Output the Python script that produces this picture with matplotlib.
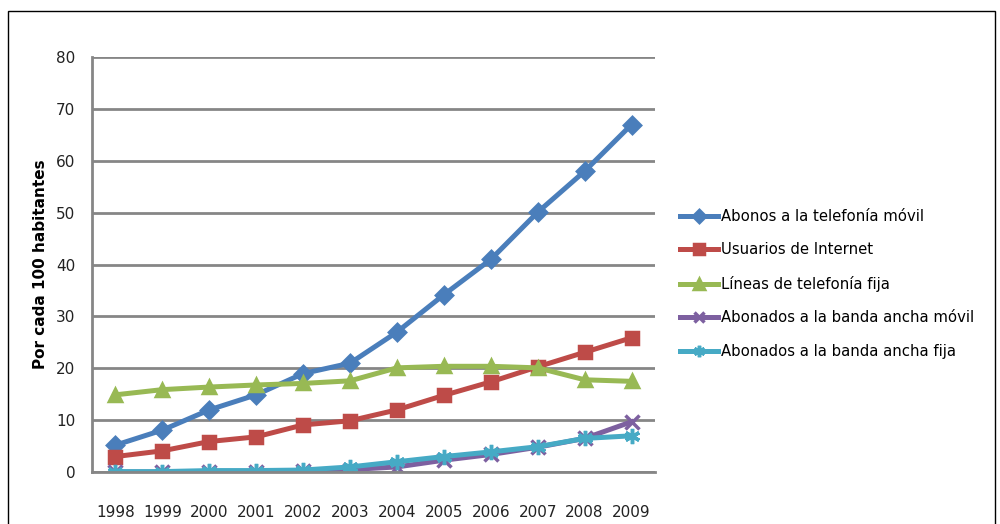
import matplotlib.pyplot as plt
from matplotlib.patches import Rectangle

plt.rcParams['font.family'] = ['DejaVu Sans']

years = ['1998', '1999', '2000', '2001', '2002', '2003', '2004', '2005', '2006', '2007', '2008', '2009']
movil = [5.2, 8.1, 12.0, 14.9, 19.0, 21.0, 27.0, 34.2, 41.0, 50.1, 58.0, 67.0]
internet = [3.0, 4.1, 5.9, 6.8, 9.1, 9.9, 12.0, 14.8, 17.4, 20.3, 23.1, 25.9]
fija = [14.9, 15.9, 16.4, 16.8, 17.1, 17.6, 20.1, 20.4, 20.4, 20.1, 17.8, 17.5]
bam = [0.0, 0.0, 0.1, 0.1, 0.2, 0.5, 1.0, 2.3, 3.4, 4.8, 6.5, 9.7]
baf = [0.1, 0.1, 0.3, 0.3, 0.4, 1.0, 2.0, 3.0, 3.9, 4.9, 6.5, 7.0]

names = ['Abonos a la telefonía móvil', 'Usuarios de Internet', 'Líneas de telefonía fija',
         'Abonados a la banda ancha móvil', 'Abonados a la banda ancha fija']
colors = ['#4A7EBB', '#BE4B48', '#98B954', '#7D60A0', '#46AAC5']
markers = ['D', 's', '^', 'x', (6, 2, 0)]
sizes = [8, 9, 9, 10, 11]

fig = plt.figure(figsize=(10, 5.24), dpi=100)
ax = fig.add_axes([0.092, 0.099, 0.563, 0.792])

x = range(len(years))
for vals, name, c, m, s in zip([movil, internet, fija, bam, baf], names, colors, markers, sizes):
    ax.plot(x, vals, color=c, lw=3.6, marker=m, ms=s, mew=2.5, mec=c, mfc=c, label=name)

ax.set_xlim(-0.5, len(years) - 0.5)
ax.set_ylim(0, 80)
ax.set_yticks(range(0, 81, 10))
ax.set_xticks(list(x))
ax.set_xticklabels(years)
ax.yaxis.grid(True, color='#868686', lw=2)
ax.set_axisbelow(True)
ax.tick_params(length=0, labelsize=11, colors='#222222')
ax.tick_params(axis='x', pad=24)
ax.tick_params(axis='y', pad=12)
for side in ['top', 'right']:
    ax.spines[side].set_visible(False)
for side in ['left', 'bottom']:
    ax.spines[side].set_color('#868686')
    ax.spines[side].set_linewidth(2)
ax.set_ylabel('Por cada 100 habitantes', fontsize=11, fontweight='bold', labelpad=6)

ax.legend(loc='center left', bbox_to_anchor=(1.044, 0.4535), frameon=False, fontsize=10.7,
          handlelength=2.6, handletextpad=0.15, labelspacing=1.25, borderaxespad=0, borderpad=0,
          markerscale=0.75)

fig.patches.append(Rectangle((0.008, -0.1), 0.987, 1.079, transform=fig.transFigure,
                             fill=False, edgecolor='black', lw=1))

fig.savefig('out.png', dpi=100)
